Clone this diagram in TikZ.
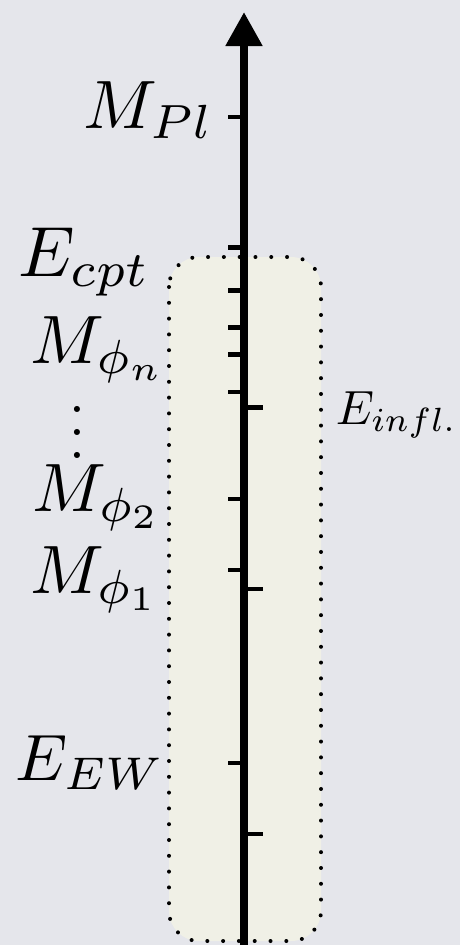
\documentclass[tikz,border=0pt]{standalone}
\usetikzlibrary{arrows.meta}
\definecolor{bgc}{RGB}{229,230,235}
\definecolor{boxc}{RGB}{240,240,230}
\tikzset{
  lab/.style={inner sep=0pt, font=\normalsize, scale=6.85, anchor=base east},
  tickl/.style={line width=4.5pt},
  dotline/.style={line width=4pt, line cap=round, dash pattern=on 0pt off 15.8pt},
}
\begin{document}
\begin{tikzpicture}[x=1pt,y=-1pt]
\fill[bgc] (0,0) rectangle (460,945);
\useasboundingbox (0,0) rectangle (460,945);
% inflation box
\fill[boxc, rounded corners=30pt] (169,257) rectangle (321,941);
\draw[dotline, rounded corners=30pt] (169,257) rectangle (321,941);
% axis
\coordinate (bot) at (244,945);
\coordinate (top) at (244,12);
\draw[line width=8pt, -{Triangle[width=35pt,length=34pt]}] (bot) -- (top);
% ticks
\foreach \n/\y in {pl/117, cpt/247.3, a/290.3, b/327.7, c/354.7, d/392, e/499, f/570, ew/763}{
  \coordinate (t\n) at (244,\y);
  \draw[tickl] (t\n) -- ++(-16,0);
}
\foreach \n/\y in {r1/407.7, r2/589, r3/834}{
  \coordinate (t\n) at (244,\y);
  \draw[tickl] (t\n) -- ++(18.5,0);
}
% labels
\node[lab] (lpl) at (215,128) {$M_{Pl}$};
\node[lab, scale=7.1/6.85] (lcpt) at (152,276) {$E_{cpt}$};
\node[lab] (lphin) at (168,363) {$M_{\phi_n}$};
\node[inner sep=0pt, scale=5.7, anchor=base] (ldots) at (77,458) {\vbox{\baselineskip=4pt\lineskiplimit=0pt\hbox{.}\hbox{.}\hbox{.}}};
\node[lab] (lphi2) at (163.5,511) {$M_{\phi_2}$};
\node[lab] (lphi1) at (161.5,593) {$M_{\phi_1}$};
\node[lab, scale=6.55/6.85] (lew) at (166,780) {$E_{EW}$};
\node[inner sep=0pt, font=\normalsize, scale=4.8, anchor=base west] (linfl) at (335,424) {$E_{infl.}$};
\end{tikzpicture}
\end{document}
